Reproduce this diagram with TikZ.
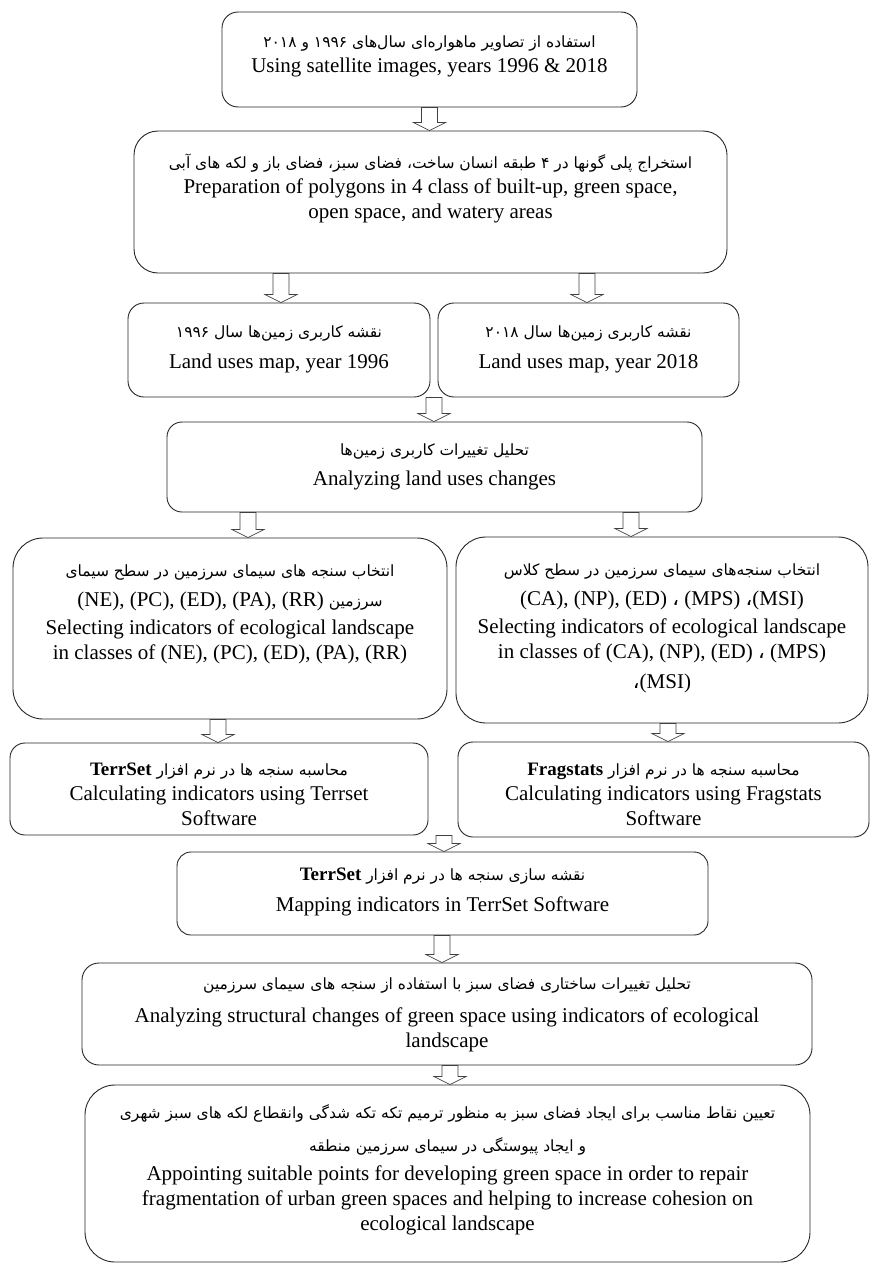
\documentclass[tikz,border=0pt]{standalone}
\usepackage{fontspec}
\setmainfont{Liberation Serif}
\newfontfamily\fa[Script=Arabic]{DejaVu Sans}
\TeXXeTstate=1
\usetikzlibrary{calc}
\newcommand{\fl}[1]{{\fa\fontsize{15.5}{25}\selectfont\beginR #1\endR}}
\newcommand{\lt}[1]{\beginL #1\endL{}}
\newcommand{\en}[1]{{\rmfamily\fontsize{21}{25}\selectfont #1}}
\newcommand{\tb}[1]{{\rmfamily\bfseries\fontsize{19}{25}\selectfont #1}}
\newcommand{\ac}{{\fa ،}}
\newcommand{\barrow}[2]{%
  \path let \p1=(#1), \p2=(#2) in
    [arr] (\x1-8pt,\y1) -- (\x1+8pt,\y1) -- (\x1+8pt,\y2+8pt) -- (\x1+16pt,\y2+8pt)
    -- (\x1,\y2) -- (\x1-16pt,\y2+8pt) -- (\x1-8pt,\y2+8pt) -- cycle;}
\tikzset{
  bx/.style={draw=black!85, line width=0.9pt, inner sep=0pt},
  txt/.style={anchor=north, align=center, inner sep=0pt, font=\fontsize{21}{25}\selectfont},
  arr/.style={draw=black!75, fill=white, line width=0.7pt}
}
\begin{document}
\begin{tikzpicture}[x=1pt,y=-1pt]
\useasboundingbox (0,0) rectangle (871,1266);
% boxes (center, size)
\node[bx, rounded corners=16, minimum width=415, minimum height=95] (b1) at (429.5,59.5) {};
\node[bx, rounded corners=24, minimum width=593, minimum height=142] (b2) at (430.5,202) {};
\node[bx, rounded corners=16, minimum width=302, minimum height=94] (b3l) at (279,350) {};
\node[bx, rounded corners=16, minimum width=301, minimum height=94] (b3r) at (588.5,350) {};
\node[bx, rounded corners=15, minimum width=535, minimum height=90] (b4) at (434.5,467) {};
\node[bx, rounded corners=30, minimum width=434, minimum height=181] (b5l) at (230,628.5) {};
\node[bx, rounded corners=30, minimum width=412, minimum height=186] (b5r) at (662,630) {};
\node[bx, rounded corners=15, minimum width=418, minimum height=92] (b6l) at (219,789) {};
\node[bx, rounded corners=15, minimum width=411, minimum height=95] (b6r) at (663.5,789.5) {};
\node[bx, rounded corners=14, minimum width=531, minimum height=83] (b7) at (442.5,893.5) {};
\node[bx, rounded corners=17, minimum width=730, minimum height=102] (b8) at (447,1014) {};
\node[bx, rounded corners=30, minimum width=725, minimum height=177] (b9) at (447.5,1173.5) {};
% texts
\node[txt] (t1) at ($(b1.north)+(0,24)$) {\fl{استفاده از تصاویر ماهواره‌ای سال‌های \lt{۱۹۹۶} و \lt{۲۰۱۸}}\\ Using satellite images, years 1996 \& 2018};
\node[txt] (t2) at ($(b2.north)+(0,23)$) {\fl{استخراج پلی گونها در ۴ طبقه انسان ساخت، فضای سبز، فضای باز و لکه های آبی}\\ Preparation of polygons in 4 class of built-up, green space,\\ open space, and watery areas};
\node[txt] (t3l) at ($(b3l.north)+(0,23)$) {\fl{نقشه کاربری زمین‌ها سال \lt{۱۹۹۶}}\\[6pt] Land uses map, year 1996};
\node[txt] (t3r) at ($(b3r.north)+(0,23)$) {\fl{نقشه کاربری زمین‌ها سال \lt{۲۰۱۸}}\\[6pt] Land uses map, year 2018};
\node[txt] (t4) at ($(b4.north)+(0,22)$) {\fl{تحلیل تغییرات کاربری زمین‌ها}\\[5pt] Analyzing land uses changes};
\node[txt] (t5l) at ($(b5l.north)+(0,27)$) {\fl{انتخاب سنجه های سیمای سرزمین در سطح سیمای}\\[5pt] \fl{سرزمین \lt{\en{(NE), (PC), (ED), (PA), (RR)}}}\\[3pt] Selecting indicators of ecological landscape\\ in classes of (NE), (PC), (ED), (PA), (RR)};
\node[txt] (t5r) at ($(b5r.north)+(0,27)$) {\fl{انتخاب سنجه‌های سیمای سرزمین در سطح کلاس}\\[5pt] (CA), (NP), (ED) \ac{} (MPS) \ac(MSI)\\[3pt] Selecting indicators of ecological landscape\\ in classes of (CA), (NP), (ED) \ac{} (MPS)\\[5pt] \ac(MSI)};
\node[txt] (t6l) at ($(b6l.north)+(0,20)$) {\fl{محاسبه سنجه  ها در نرم افزار \lt{\tb{TerrSet}}}\\ Calculating indicators using Terrset\\ Software};
\node[txt] (t6r) at ($(b6r.north)+(0,21)$) {\fl{محاسبه سنجه ها در نرم افزار \lt{\tb{Fragstats}}}\\ Calculating indicators using Fragstats\\ Software};
\node[txt] (t7) at ($(b7.north)+(0,16)$) {\fl{نقشه سازی سنجه ها در نرم افزار \lt{\tb{TerrSet}}}\\[6pt] Mapping indicators in TerrSet Software};
\node[txt] (t8) at ($(b8.north)+(0,15)$) {\fl{تحلیل تغییرات ساختاری فضای سبز  با استفاده از سنجه های سیمای سرزمین}\\[8pt] Analyzing structural changes of green space using indicators of ecological\\ landscape};
\node[txt] (t9) at ($(b9.north)+(0,20)$) {\fl{تعیین نقاط مناسب برای ایجاد فضای سبز به منظور ترمیم تکه تکه شدگی  وانقطاع لکه های سبز شهری}\\[8pt] \fl{و ایجاد پیوستگی در سیمای سرزمین منطقه}\\[4pt] Appointing suitable points for developing green space in order to repair\\ fragmentation of urban green spaces and helping to increase cohesion on\\ ecological landscape};
% arrow x positions
\coordinate (x2l) at (281,0);
\coordinate (x2r) at (587,0);
\coordinate (x3) at (434,0);
\coordinate (x4l) at (248,0);
\coordinate (x4r) at (631,0);
\coordinate (x5l) at (218,0);
\coordinate (x5r) at (668,0);
\coordinate (x6) at (444,0);
\coordinate (x7) at (442,0);
\coordinate (x8) at (450,0);
% arrows
\barrow{b1.south}{b2.north -| b1.south}
\barrow{b2.south -| x2l}{b3l.north -| x2l}
\barrow{b2.south -| x2r}{b3r.north -| x2r}
\barrow{b3l.south -| x3}{b4.north -| x3}
\barrow{b4.south -| x4l}{b5l.north -| x4l}
\barrow{b4.south -| x4r}{b5r.north -| x4r}
\barrow{b5l.south -| x5l}{b6l.north -| x5l}
\barrow{b5r.south -| x5r}{b6r.north -| x5r}
\barrow{b6l.south -| x6}{b7.north -| x6}
\barrow{b7.south -| x7}{b8.north -| x7}
\barrow{b8.south -| x8}{b9.north -| x8}
\end{tikzpicture}
\end{document}
